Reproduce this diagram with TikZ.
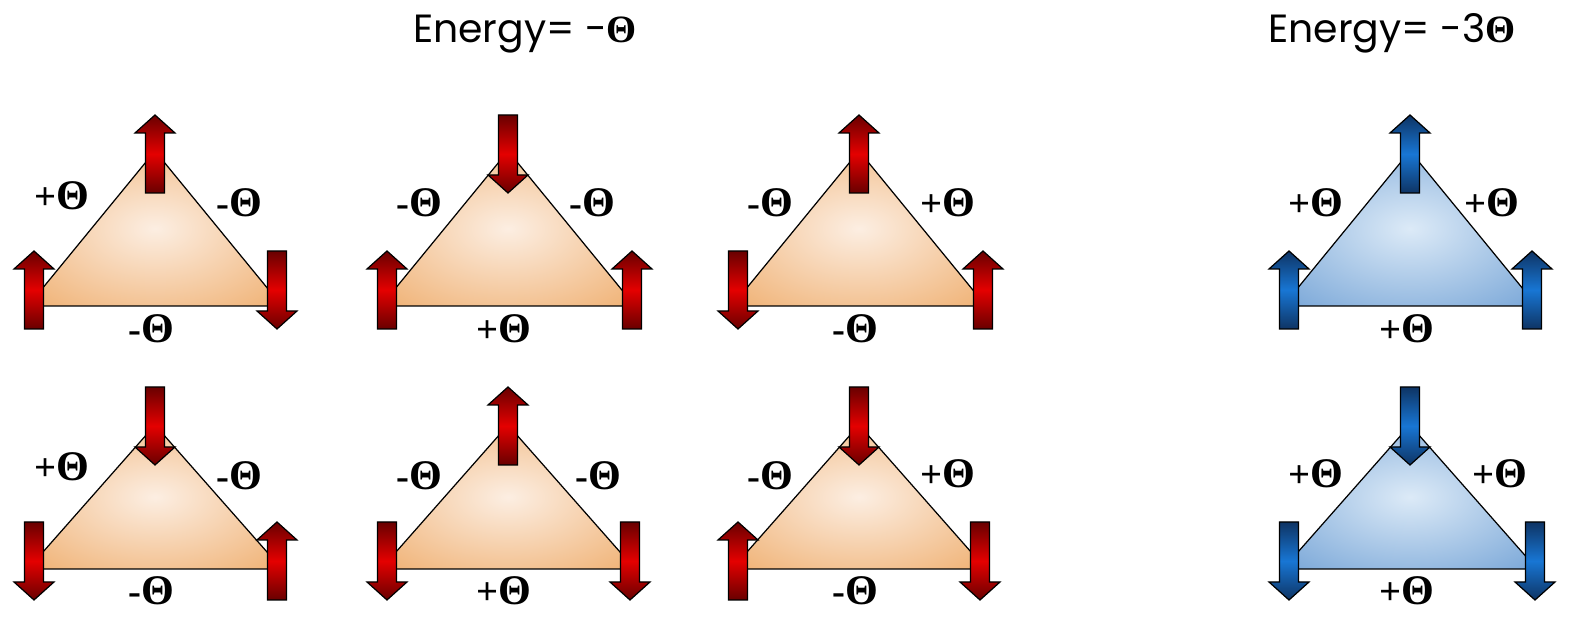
\documentclass[tikz,border=0pt]{standalone}
\usepackage{fontspec}
\setmainfont{Liberation Serif}
\newfontfamily\titlefont{Poppins}
\usepackage{xcolor}
\usepackage{tikz}
\usetikzlibrary{positioning}
\definecolor{reddark}{RGB}{105,0,0}
\definecolor{redlight}{RGB}{228,0,0}
\definecolor{bluedark}{RGB}{14,52,100}
\definecolor{bluelight}{RGB}{24,118,212}
\definecolor{warmin}{RGB}{252,238,226}
\definecolor{warmout}{RGB}{239,174,110}
\definecolor{coolin}{RGB}{220,234,247}
\definecolor{coolout}{RGB}{116,163,214}
\pgfdeclareradialshading{warmglow}{\pgfpointorigin}{color(0bp)=(warmin); color(37bp)=(warmout); color(50bp)=(warmout)}
\pgfdeclareradialshading{coolglow}{\pgfpointorigin}{color(0bp)=(coolin); color(37bp)=(coolout); color(50bp)=(coolout)}
\newcommand{\Thb}{{\rmfamily\bfseries\fontsize{11}{11}\selectfont Θ}}
\newcommand{\Th}{{\fontsize{12}{12}\selectfont Θ}}

\begin{document}
\begin{tikzpicture}[x=0.1mm, y=-0.1mm]
	\tikzset{
		tri/.style={draw=black, line width=0.35pt, shade, shading=#1glow},
		spin/.style={draw=black, line width=0.35pt, top color=#1dark, bottom color=#1dark, middle color=#1light},
		spinup/.pic={\path[spin=#1] (-9.5,39) -- (-9.5,-21) -- (-20,-21) -- (0,-39) -- (20,-21) -- (9.5,-21) -- (9.5,39) -- cycle;},
		spindown/.pic={\path[spin=#1] (-9.5,-39) -- (-9.5,21) -- (-20,21) -- (0,39) -- (20,21) -- (9.5,21) -- (9.5,-39) -- cycle;},
		j/.style={font=\bfseries\fontsize{11}{12}\selectfont, inner sep=0pt},
		title/.style={font=\titlefont\fontsize{11.2}{14}\selectfont, anchor=base, inner sep=0pt}
	}
	\useasboundingbox (0,0) rectangle (1577,627);
	
	% titles
	\node[title] (e1) at (525,43) {Energy= -\Thb};
	\node[title] (e3) at (1392,43) {Energy= -3\Thb};
	
	% row 1
	\path[tri=warm] (155,151) -- (28,306) -- (282,306) -- cycle;
	\pic at (155,154) {spinup=red};
	\pic at (34,290) {spinup=red};
	\pic at (277,290) {spindown=red};
	\node[j, anchor=east] (a1l) at (90,196) {+\Th};
	\node[j, anchor=west] (a1r) at (216,203) {-\Th};
	\node[j] (a1b) at (151,329) {-\Th};
	
	\path[tri=warm] (508,151) -- (381,306) -- (635,306) -- cycle;
	\pic at (508,154) {spindown=red};
	\pic at (387,290) {spinup=red};
	\pic at (632,290) {spinup=red};
	\node[j, anchor=east] (a2l) at (443,203) {-\Th};
	\node[j, anchor=west] (a2r) at (569,203) {-\Th};
	\node[j] (a2b) at (504,329) {+\Th};
	
	\path[tri=warm] (859,151) -- (732,306) -- (986,306) -- cycle;
	\pic at (859,154) {spinup=red};
	\pic at (738,290) {spindown=red};
	\pic at (983,290) {spinup=red};
	\node[j, anchor=east] (a3l) at (794,203) {-\Th};
	\node[j, anchor=west] (a3r) at (920,203) {+\Th};
	\node[j] (a3b) at (855,329) {-\Th};
	
	\path[tri=cool] (1410,151) -- (1283,306) -- (1537,306) -- cycle;
	\pic at (1410,154) {spinup=blue};
	\pic at (1289,290) {spinup=blue};
	\pic at (1532,290) {spinup=blue};
	\node[j, anchor=east] (a4l) at (1344,203) {+\Th};
	\node[j, anchor=west] (a4r) at (1464,203) {+\Th};
	\node[j] (a4b) at (1407,329) {+\Th};
	
	% row 2
	\path[tri=warm] (155,425) -- (28,569) -- (282,569) -- cycle;
	\pic at (155,426) {spindown=red};
	\pic at (34,561) {spindown=red};
	\pic at (277,561) {spinup=red};
	\node[j, anchor=east] (b1l) at (90,467) {+\Th};
	\node[j, anchor=west] (b1r) at (216,476) {-\Th};
	\node[j] (b1b) at (151,591) {-\Th};
	
	\path[tri=warm] (508,425) -- (381,569) -- (635,569) -- cycle;
	\pic at (508,426) {spinup=red};
	\pic at (387,561) {spindown=red};
	\pic at (630,561) {spindown=red};
	\node[j, anchor=east] (b2l) at (443,476) {-\Th};
	\node[j, anchor=west] (b2r) at (575,476) {-\Th};
	\node[j] (b2b) at (504,591) {+\Th};
	
	\path[tri=warm] (859,425) -- (732,569) -- (986,569) -- cycle;
	\pic at (859,426) {spindown=red};
	\pic at (738,561) {spinup=red};
	\pic at (980,561) {spindown=red};
	\node[j, anchor=east] (b3l) at (794,476) {-\Th};
	\node[j, anchor=west] (b3r) at (920,474) {+\Th};
	\node[j] (b3b) at (855,591) {-\Th};
	
	\path[tri=cool] (1410,425) -- (1283,569) -- (1537,569) -- cycle;
	\pic at (1410,426) {spindown=blue};
	\pic at (1289,561) {spindown=blue};
	\pic at (1535,561) {spindown=blue};
	\node[j, anchor=east] (b4l) at (1344,474) {+\Th};
	\node[j, anchor=west] (b4r) at (1472,474) {+\Th};
	\node[j] (b4b) at (1407,591) {+\Th};
\end{tikzpicture}
\end{document}
